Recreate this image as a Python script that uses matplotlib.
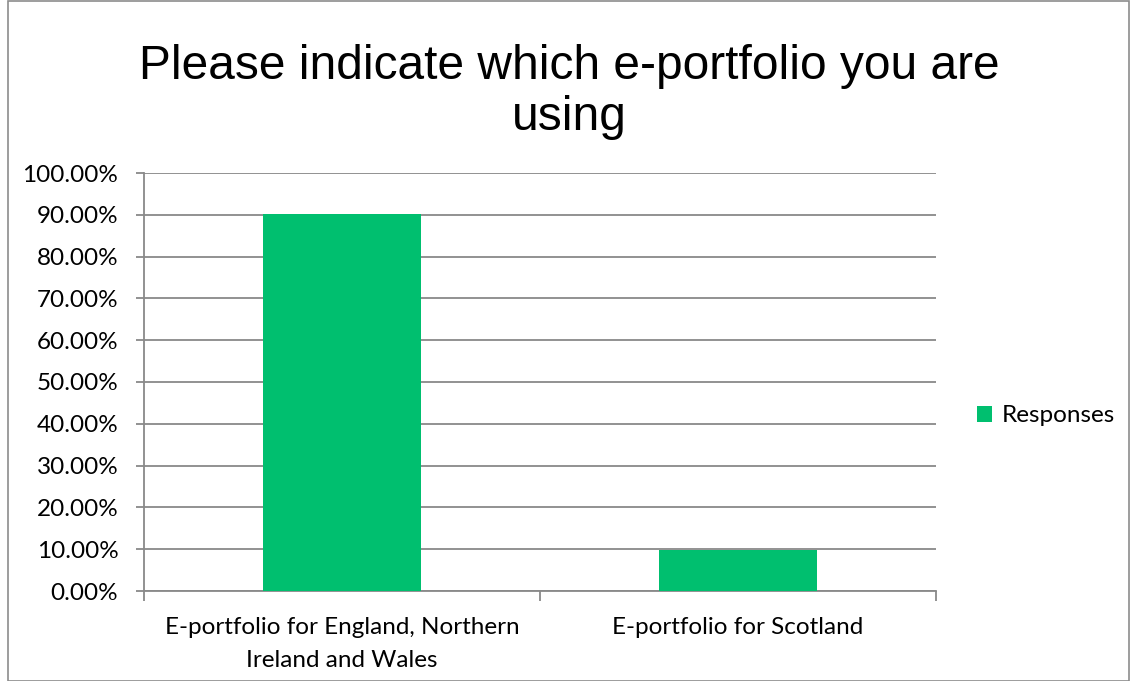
import matplotlib
matplotlib.use("Agg")
import matplotlib.pyplot as plt
from matplotlib.ticker import FuncFormatter, MultipleLocator
from matplotlib.patches import Rectangle

categories = ["E-portfolio for England, Northern\nIreland and Wales", "E-portfolio for Scotland"]
responses = [90.24, 9.76]
series_name = "Responses"
title = "Please indicate which e-portfolio you are\nusing"

bar_color = "#00BF6F"
grid_color = "#898989"
label_size = 17.5

fig = plt.figure(figsize=(11.3, 6.81), dpi=100)
fig.patches.append(Rectangle((8 / 1130, 0), 1121 / 1130, 680 / 681, transform=fig.transFigure,
                             fill=False, edgecolor="#8c8c8c", linewidth=1.2))

ax = fig.add_axes([144 / 1130, 1 - 591 / 681, (936 - 144) / 1130, (591 - 173) / 681])
x = list(range(len(categories)))
bars = ax.bar(x, responses, width=0.4, color=bar_color, label=series_name, zorder=3)

ax.set_xlim(-0.5, 1.5)
ax.set_ylim(0, 100)
ax.yaxis.set_major_locator(MultipleLocator(10))
ax.yaxis.set_major_formatter(FuncFormatter(lambda v, p: f"{v:.2f}%"))
ax.grid(axis="y", color=grid_color, linewidth=1.3, zorder=0)
ax.set_axisbelow(True)

for side in ["top", "right"]:
    ax.spines[side].set_visible(False)
for side in ["left", "bottom"]:
    ax.spines[side].set_color(grid_color)
    ax.spines[side].set_linewidth(1.3)

tick_font = dict(family="Lato", size=label_size)
ax.set_xticks([-0.5, 0.5, 1.5], minor=False)
ax.set_xticklabels([])
ax.set_xticks(x, minor=True)
ax.set_xticklabels(categories, minor=True, fontdict=tick_font, linespacing=1.7)
ax.tick_params(axis="x", which="major", length=7, color=grid_color, width=1.3)
ax.tick_params(axis="x", which="minor", length=0, pad=18.5)
ax.tick_params(axis="y", length=6, color=grid_color, width=1.3, pad=12.5)
for lbl in ax.get_yticklabels():
    lbl.set_fontfamily("Lato")
    lbl.set_fontsize(label_size)

fig.text(0.5 + 8 / 2260, 1 - 92 / 681, title, ha="center", va="center", fontsize=34.5,
         family="Liberation Sans", linespacing=1.17)

leg = fig.legend(handles=[bars], labels=[series_name], loc="center left",
                 bbox_to_anchor=(955 / 1130, 1 - 416 / 681), frameon=False,
                 prop=dict(family="Lato", size=label_size), handlelength=0.62, handleheight=0.62,
                 handletextpad=0.4)

fig.savefig("out.png", dpi=100)
